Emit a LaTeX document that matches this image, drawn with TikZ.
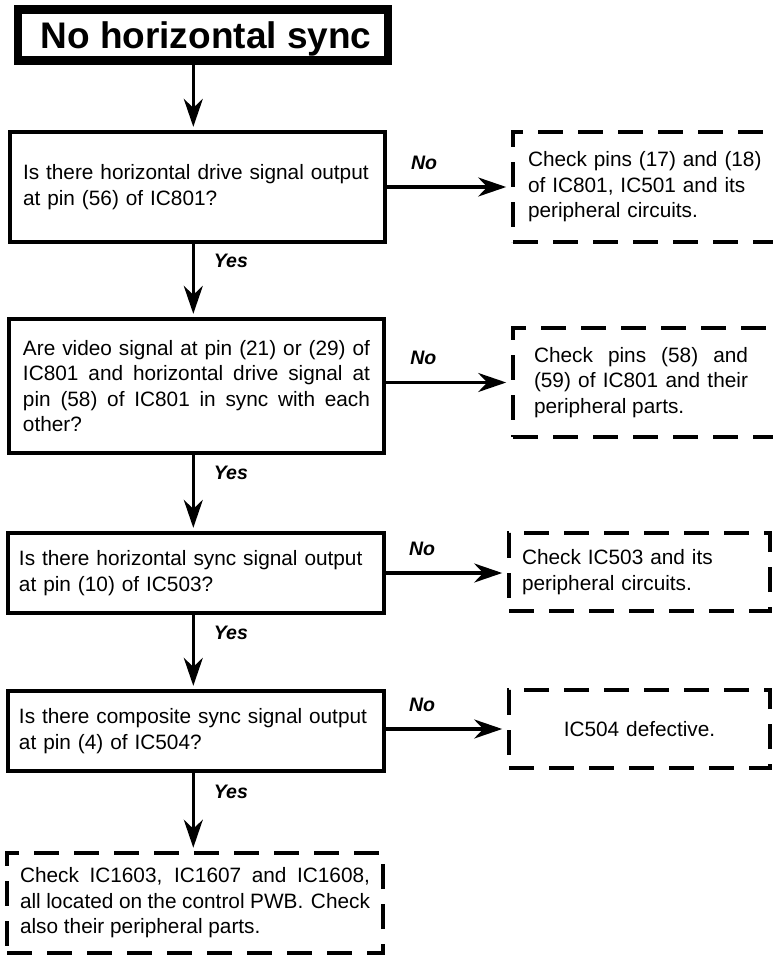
\documentclass[tikz,border=0pt]{standalone}
\usepackage{fontspec}
\setmainfont{Liberation Sans}
\usetikzlibrary{arrows.meta}
\hyphenpenalty=10000
\exhyphenpenalty=10000
\newcommand{\flowfont}{\fontsize{20.8pt}{25.5pt}\selectfont}
\newcommand{\tagfont}{\fontsize{19.5pt}{22pt}\selectfont\bfseries\itshape}

\begin{document}
\begin{tikzpicture}[x=1pt, y=-1pt,
	askbox/.style={draw, line width=3.3pt, inner ysep=0pt, align=left, font=\flowfont},
	checkbox/.style={draw, line width=3.6pt, dash pattern=on 25pt off 15pt, inner ysep=0pt, align=left, font=\flowfont},
	flow/.style={-{Stealth[length=28pt, width=19pt, inset=9pt]}, line width=3.2pt, shorten >=3.5pt},
	yeslbl/.style={anchor=west, xshift=19pt, inner sep=0pt, font=\tagfont},
	nolbl/.style={anchor=south, yshift=16pt, inner sep=0pt, font=\tagfont}]
	\useasboundingbox (0,0) rectangle (772,956);

	% Nodes
	\node[draw, line width=8.5pt, minimum width=370pt, minimum height=51pt, inner sep=0pt, text depth=0pt,
		font=\fontsize{37pt}{40pt}\selectfont\bfseries] (start) at (203,35) {\hspace*{6pt}No horizontal sync};   % Title
	\node[askbox, text width=353pt, inner xsep=11pt, minimum height=110pt] (q1) at (197.5,187)
		{\hspace*{2pt}Is there horizontal drive signal output\\\hspace*{2pt}at pin (56) of IC801?};
	\node[askbox, align=justify, text width=347pt, inner xsep=14pt, minimum height=134pt] (q2) at (196.5,386)
		{Are video signal at pin (21) or (29) of\linebreak IC801 and horizontal drive signal at\linebreak
		 pin (58) of IC801 in sync with each\linebreak other?};
	\node[askbox, text width=354pt, inner xsep=11pt, minimum height=80pt] (q3) at (196,573)
		{Is there horizontal sync signal output\\at pin (10) of IC503?};
	\node[askbox, text width=354pt, inner xsep=11pt, minimum height=80pt] (q4) at (196,731)
		{Is there composite sync signal output\\at pin (4) of IC504?};

	\node[checkbox, text width=240pt, inner xsep=15pt, minimum height=110pt] (d1) at (648,187)   % runs off the right edge
		{Check pins (17) and (18)\\of IC801, IC501 and its\\peripheral circuits.};
	\node[checkbox, align=justify, text width=250pt, inner xsep=21pt, minimum height=109pt] (d2) at (659,382.5) % runs off the right edge
		{\parbox{214pt}{Check pins (58) and\linebreak (59) of IC801 and their\linebreak peripheral parts.}};
	\node[checkbox, text width=235pt, inner xsep=13pt, minimum height=78pt] (d3) at (639.5,572)
		{Check IC503 and its\\peripheral circuits.};
	\node[checkbox, align=center, text width=235pt, inner xsep=13pt, minimum height=78pt] (d4) at (639.5,729)
		{IC504 defective.};
	\node[checkbox, align=justify, text width=350pt, inner xsep=13pt, minimum height=100pt] (fin) at (195,903)
		{Check IC1603, IC1607 and IC1608,\linebreak all located on the control PWB\@. Check\linebreak
		 also their peripheral parts.};

	\coordinate (spine) at (193.3,0);   % all down arrows

	% Edges
	\draw[flow] (start.south -| spine) -- (q1.north -| spine);
	\draw[flow] (q1.south -| spine) -- node[yeslbl, pos=0.24] {Yes} (q2.north -| spine);
	\draw[flow] (q2.south -| spine) -- node[yeslbl, pos=0.24] {Yes} (q3.north -| spine);
	\draw[flow] (q3.south -| spine) -- node[yeslbl, pos=0.24] {Yes} (q4.north -| spine);
	\draw[flow] (q4.south -| spine) -- node[yeslbl, pos=0.24] {Yes} (fin.north -| spine);

	\draw[flow, shorten >=5pt] (q1.east) -- node[nolbl, pos=0.3] {No} (d1.west);
	\draw[flow, shorten >=5pt] (q2.east |- d2.west) -- node[nolbl, pos=0.3] {No} (d2.west);
	\draw[flow, shorten >=5pt] (q3.east) -- node[nolbl, pos=0.3] {No} (q3.east -| d3.west);
	\draw[flow, shorten >=5pt] (q4.east |- d4.west) -- node[nolbl, pos=0.3] {No} (d4.west);
\end{tikzpicture}
\end{document}
